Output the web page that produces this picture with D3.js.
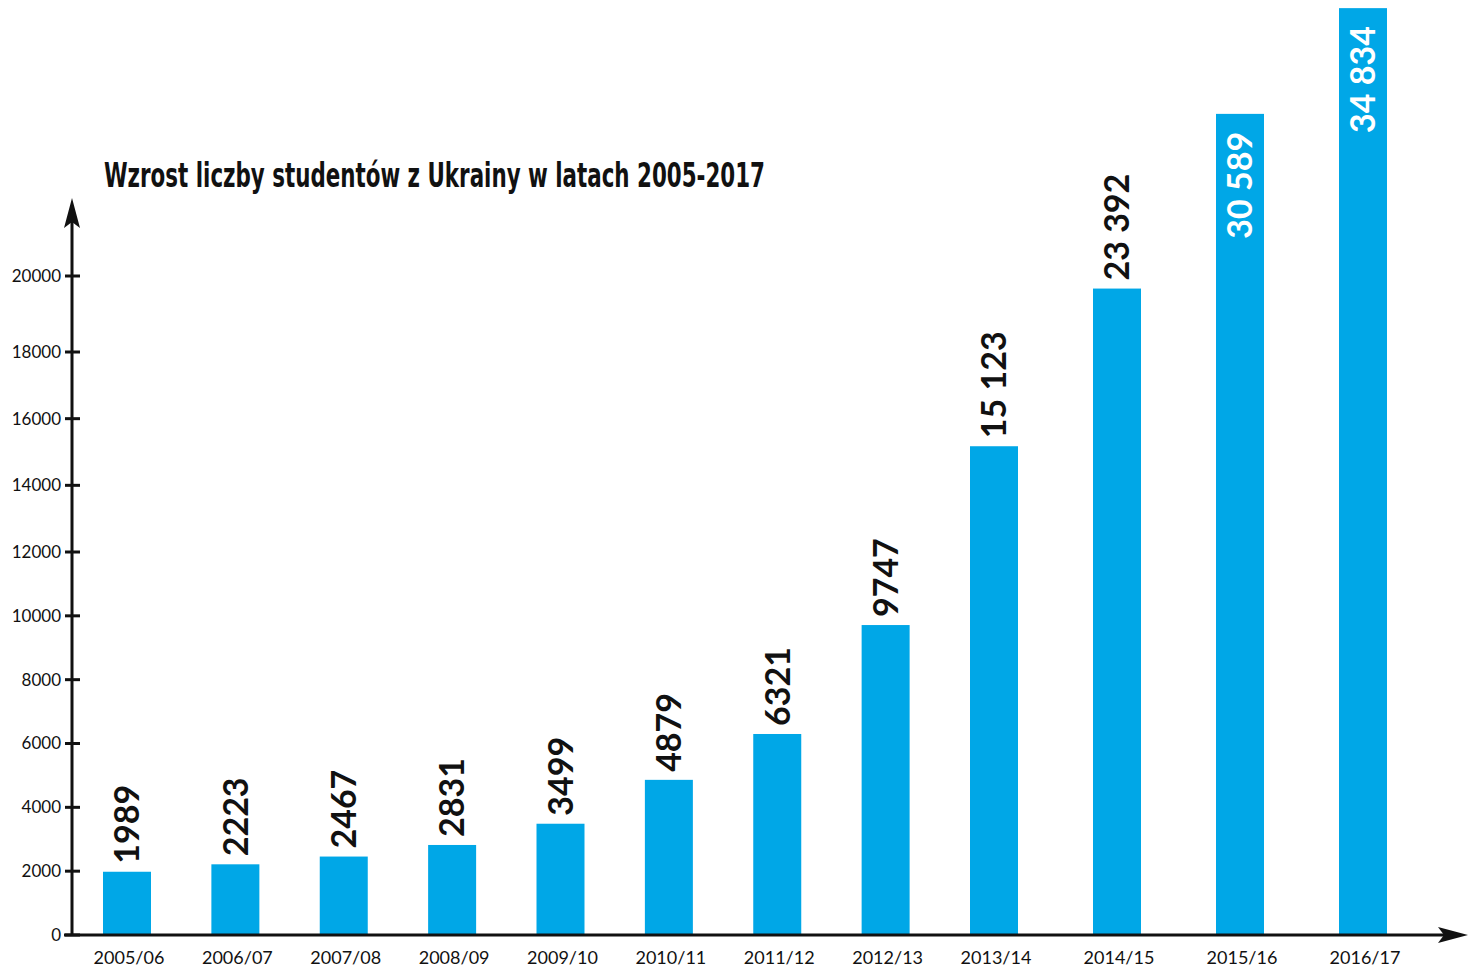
<!DOCTYPE html>
<html lang="pl">
<head>
  <meta charset="UTF-8">
  <title>Wzrost liczby studentów z Ukrainy</title>
  <script src="https://d3js.org/d3.v7.min.js"></script>
  <style>
    body { margin: 0; background: #fff; }
    svg { display: block; }
    .tick-label { font-family: Lato, "Open Sans", sans-serif; font-size: 17px; fill: #111; }
    .value { font-family: Lato, "Open Sans", sans-serif; font-weight: 700; font-size: 34px; }
    .title { font-family: "Liberation Sans Narrow", "DejaVu Sans Condensed", sans-serif; font-weight: 700; font-size: 33px; fill: #111; }
  </style>
</head>
<body>
<svg width="1469" height="968"></svg>
<script>
  const years = ["2005/06", "2006/07", "2007/08", "2008/09", "2009/10", "2010/11",
                 "2011/12", "2012/13", "2013/14", "2014/15", "2015/16", "2016/17"];
  const students = [1989, 2223, 2467, 2831, 3499, 4879, 6321, 9747, 15123, 23392, 30589, 34834];
  const valueLabels = ["1989", "2223", "2467", "2831", "3499", "4879", "6321", "9747",
                       "15 123", "23 392", "30 589", "34 834"];
  const yTicks = [0, 2000, 4000, 6000, 8000, 10000, 12000, 14000, 16000, 18000, 20000];

  const svg = d3.select("svg");
  const baseY = 935;
  const axisX = 72;

  // spacing widens for the last seasons in the original graphic
  const x = d3.scaleLinear().domain([0, 8, 11]).range([127, 994, 1363]);
  // axis and bars are drawn with (slightly different) broken scales, as in the source
  const yAxisScale = d3.scaleLinear().domain([0, 12000, 18000, 20000]).range([baseY, 552, 352, 276]);
  const yBar = d3.scaleLinear().domain([0, 10000, 16000, 24000, 35000]).range([baseY, 617, 417, 278, 4]);
  const barW = 48;

  // bars
  svg.selectAll("rect.bar")
    .data(students)
    .enter()
    .append("rect")
    .attr("class", "bar")
    .attr("x", (_, i) => x(i) - barW / 2)
    .attr("y", d => yBar(d))
    .attr("width", barW)
    .attr("height", d => baseY - yBar(d))
    .attr("fill", "#00a7e7");

  // value labels, rotated
  svg.selectAll("text.value")
    .data(students)
    .enter()
    .append("text")
    .attr("class", "value")
    .attr("transform", (d, i) => {
      const top = yBar(d);
      const inside = top < 200;
      return `translate(${x(i)},${inside ? top + 18 : top - 8}) rotate(-90)`;
    })
    .attr("dy", "0.36em")
    .attr("text-anchor", d => yBar(d) < 200 ? "end" : "start")
    .attr("fill", d => yBar(d) < 200 ? "#fff" : "#111")
    .text((_, i) => valueLabels[i]);

  // axes
  const axisG = svg.append("g").attr("stroke", "#111").attr("stroke-width", 3);
  axisG.append("line")
    .attr("x1", axisX).attr("x2", axisX)
    .attr("y1", baseY + 1).attr("y2", 222);
  axisG.append("line")
    .attr("x1", 64).attr("x2", 1445)
    .attr("y1", baseY).attr("y2", baseY);

  svg.append("path")
    .attr("d", `M${axisX},198 L${axisX + 8},228 L${axisX},222 L${axisX - 8},228 Z`)
    .attr("fill", "#111");
  svg.append("path")
    .attr("d", `M1468,${baseY} L1438,${baseY - 8} L1444,${baseY} L1438,${baseY + 8} Z`)
    .attr("fill", "#111");

  // y ticks
  const ticks = svg.append("g");
  ticks.selectAll("line")
    .data(yTicks)
    .enter()
    .append("line")
    .attr("x1", axisX - 7).attr("x2", axisX + 8)
    .attr("y1", d => yAxisScale(d)).attr("y2", d => yAxisScale(d))
    .attr("stroke", "#111").attr("stroke-width", 3);
  ticks.selectAll("text")
    .data(yTicks)
    .enter()
    .append("text")
    .attr("class", "tick-label")
    .attr("x", 61)
    .attr("y", d => yAxisScale(d))
    .attr("dy", "0.35em")
    .attr("text-anchor", "end")
    .text(d => d);

  // x labels
  svg.append("g").selectAll("text")
    .data(years)
    .enter()
    .append("text")
    .attr("class", "tick-label")
    .attr("x", (_, i) => x(i) + 2)
    .attr("y", 964)
    .attr("text-anchor", "middle")
    .style("font-size", "18px")
    .text(d => d);

  svg.append("text")
    .attr("class", "title")
    .attr("x", 104)
    .attr("y", 187)
    .attr("textLength", 661)
    .attr("lengthAdjust", "spacingAndGlyphs")
    .text("Wzrost liczby studentów z Ukrainy w latach 2005-2017");
</script>
</body>
</html>
